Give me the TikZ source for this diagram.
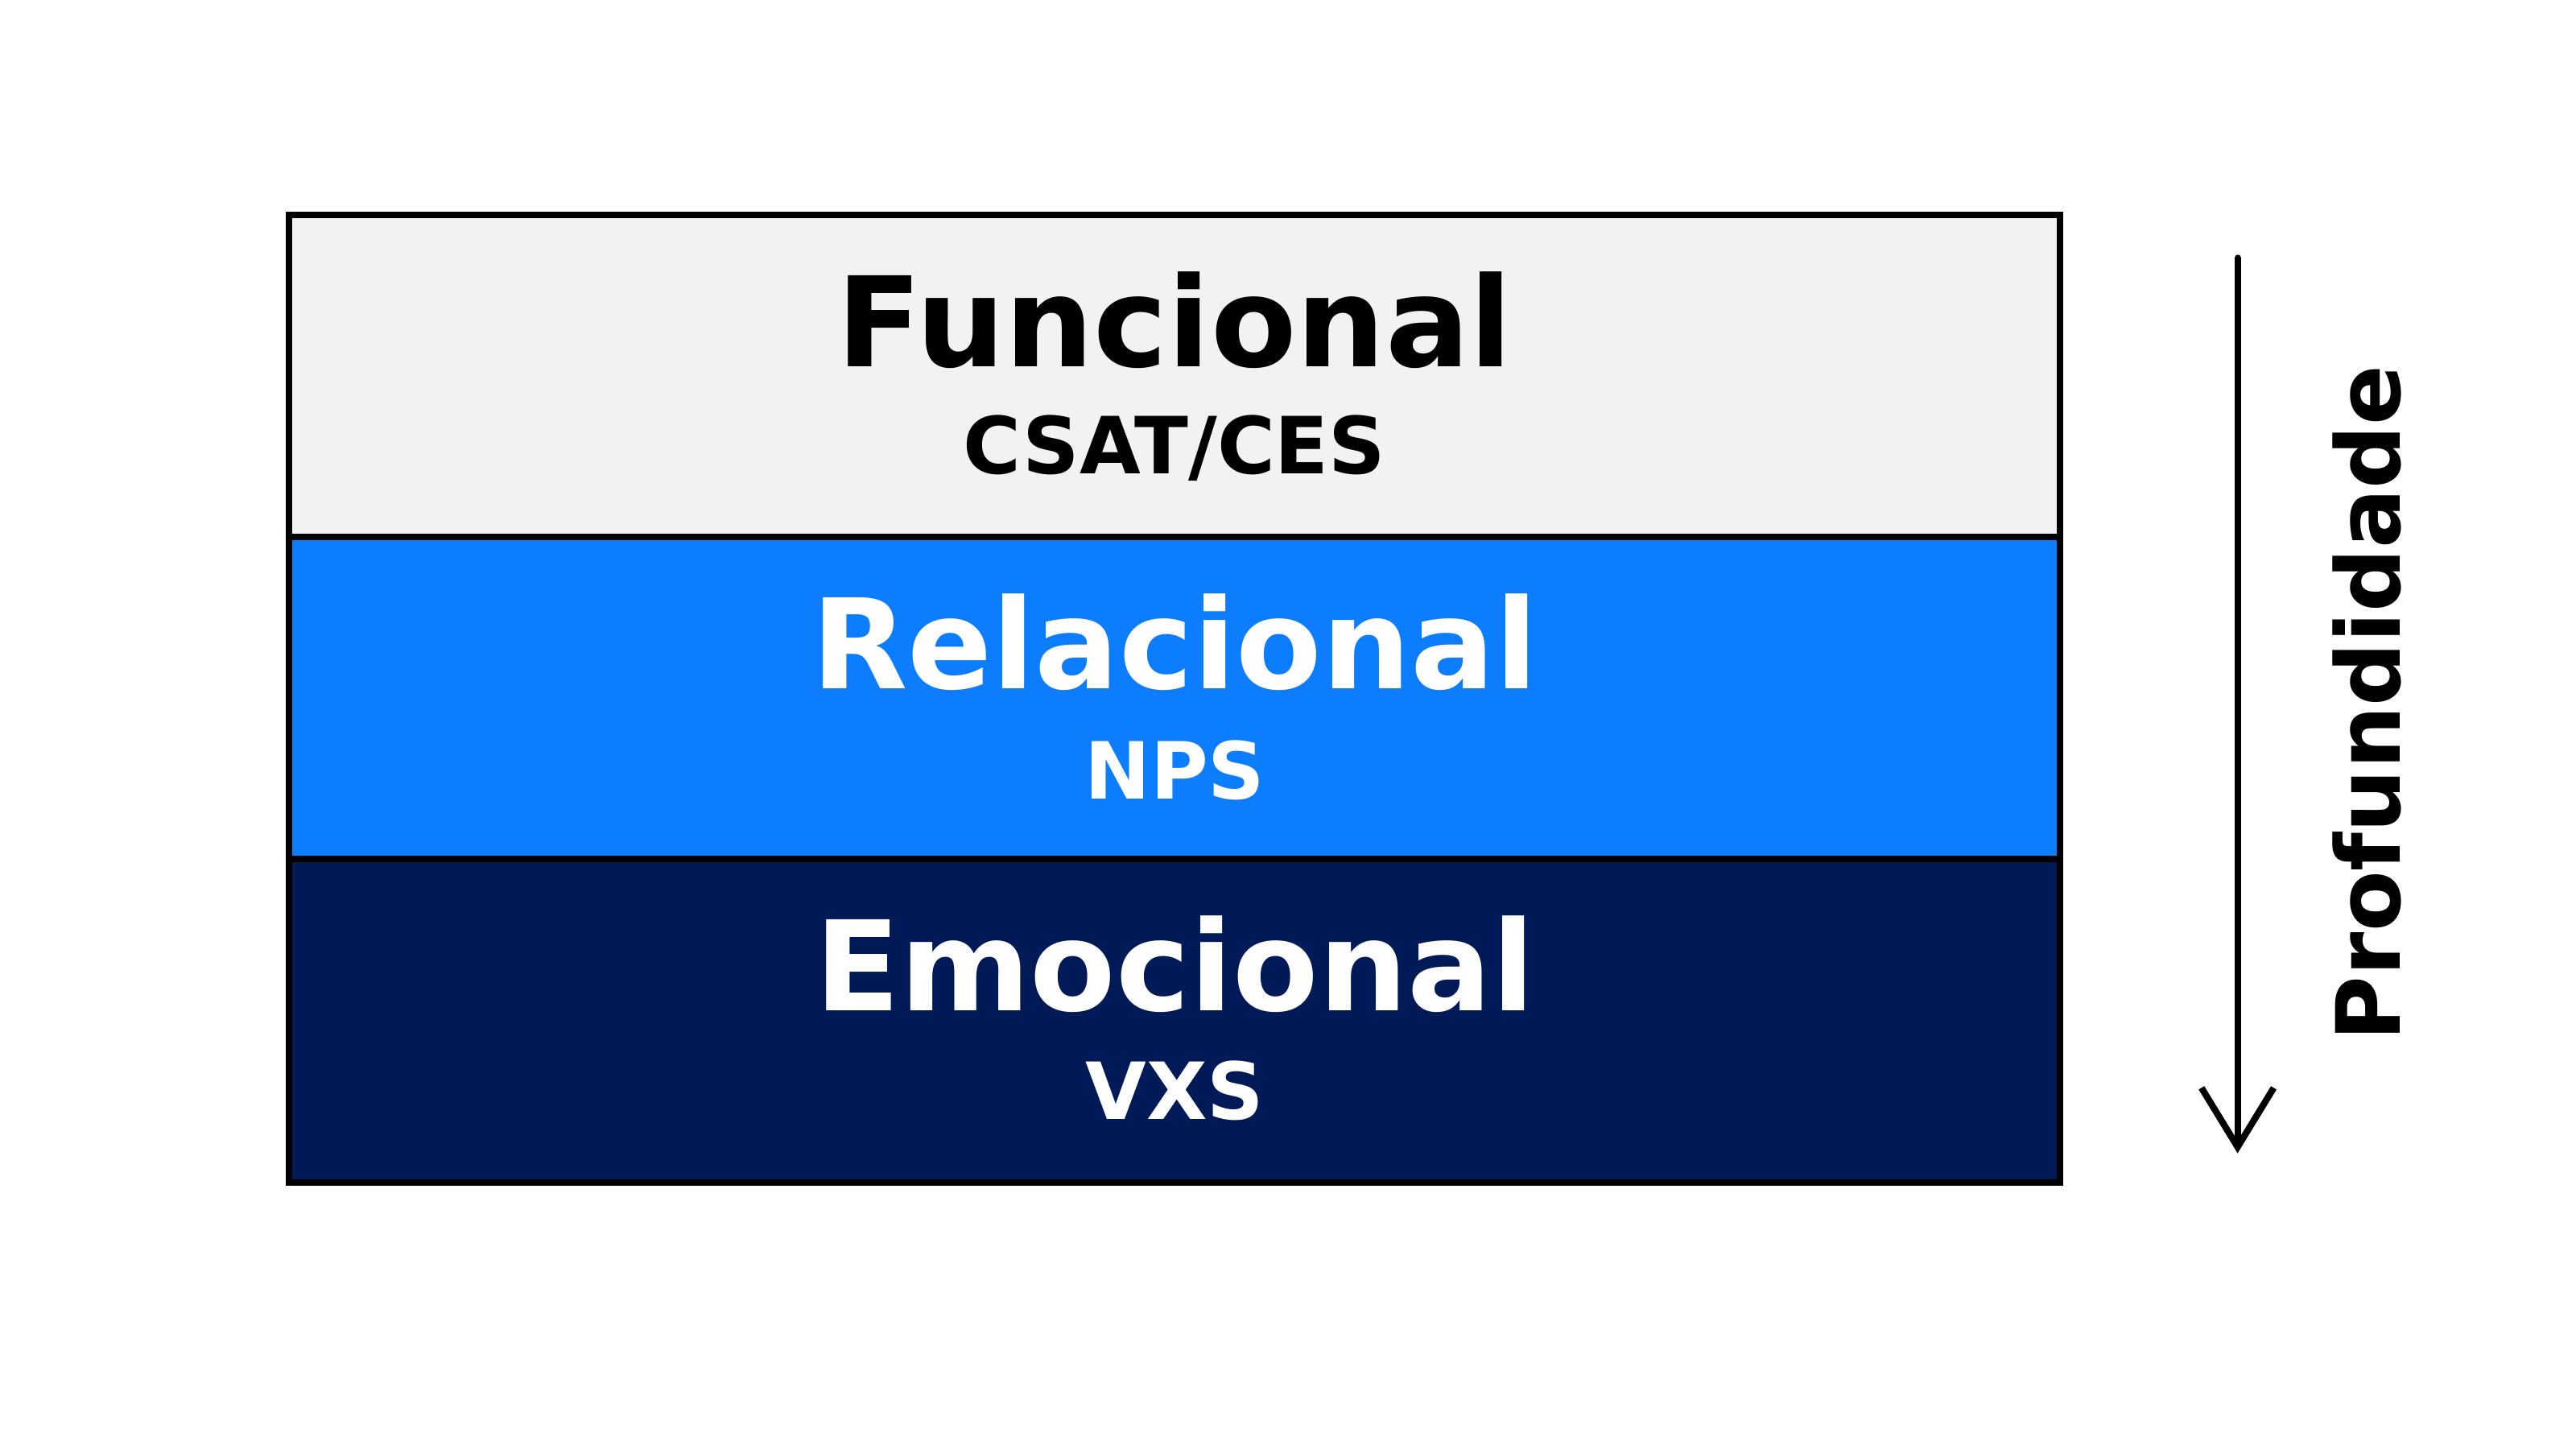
\documentclass[tikz,border=0pt]{standalone}
\usepackage{fontspec}
\setmainfont{DejaVu Sans}
\usetikzlibrary{arrows.meta}
\definecolor{lgray}{HTML}{F2F2F2}
\definecolor{mblue}{HTML}{0D7DFF}
\definecolor{navy}{HTML}{001A57}
\begin{document}
\begin{tikzpicture}[x=0.5pt,y=-0.5pt,
  layer/.style={draw=black,line width=2pt},
  big/.style={font=\bfseries\fontsize{38}{44}\selectfont,anchor=center},
  small/.style={font=\bfseries\fontsize{24}{28}\selectfont,anchor=center}]
\useasboundingbox (0,0) rectangle (1568,882);
\path[layer,fill=lgray] (176,131) rectangle (1254,327);
\path[layer,fill=mblue] (176,327) rectangle (1254,523);
\path[layer,fill=navy] (176,523) rectangle (1254,720);
\node[big,text=black] (f) at (715,195) {Funcional};
\node[small,text=black] (fs) at (715,273) {CSAT/CES};
\node[big,text=white] (r) at (715,391) {Relacional};
\node[small,text=white] (rs) at (715,469) {NPS};
\node[big,text=white] (e) at (715,587) {Emocional};
\node[small,text=white] (es) at (715,664) {VXS};
\coordinate (a1) at (1362,157);
\coordinate (a2) at (1362,702);
\draw[line width=2pt,line cap=round,-{Straight Barb[length=18pt,width=22pt,line width=2pt]}] (a1) -- (a2);
\node[font=\bfseries\fontsize{27}{32}\selectfont,rotate=90] (p) at (1441,428) {Profundidade};
\end{tikzpicture}
\end{document}
